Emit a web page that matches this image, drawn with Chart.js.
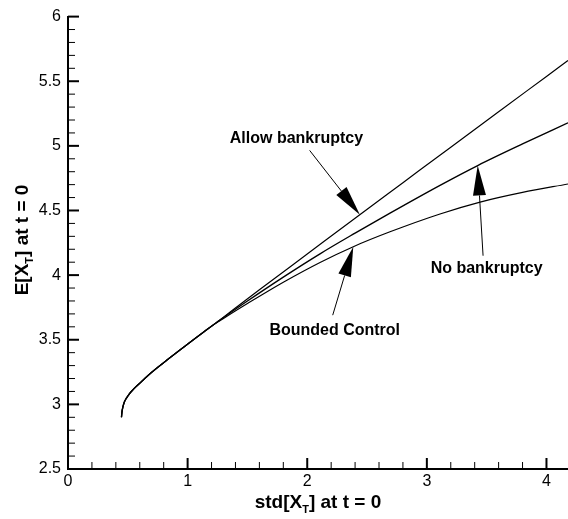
<!DOCTYPE html>
<html>
<head>
<meta charset="utf-8">
<script src="https://cdn.jsdelivr.net/npm/chart.js@4.4.1/dist/chart.umd.min.js"></script>
<style>
  html, body { margin: 0; padding: 0; background: #fff; }
  #wrap { width: 568px; height: 519px; }
</style>
</head>
<body>
<div id="wrap"><canvas id="chart" width="568" height="519"></canvas></div>
<script>
// shared start of the frontier (all three curves lie on top of each other here)
const sharedX = [0.447, 0.451, 0.459, 0.472, 0.49, 0.512, 0.54, 0.57, 0.60, 0.644, 0.70, 0.755, 0.83, 0.895, 0.98, 1.062, 1.14, 1.215];
const sharedY = [2.90, 2.94, 2.98, 3.02, 3.05, 3.08, 3.11, 3.138, 3.164, 3.202, 3.248, 3.29, 3.345, 3.392, 3.452, 3.51, 3.564, 3.615];

// where the curves split
const allowX = [1.3, 1.6, 2.0, 2.4, 2.8, 3.2, 3.6, 4.0, 4.18];
const allowY = [3.675, 3.886, 4.163, 4.44, 4.715, 4.99, 5.264, 5.537, 5.66];

const noBankX = [1.3, 1.5, 1.8, 2.107, 2.4, 2.692, 3.11, 3.425, 3.8, 4.18];
const noBankY = [3.672, 3.80, 3.985, 4.165, 4.325, 4.48, 4.695, 4.848, 5.015, 5.178];

const boundedX = [1.3, 1.5, 1.8, 2.107, 2.385, 2.692, 3.11, 3.445, 3.8, 4.18];
const boundedY = [3.665, 3.78, 3.945, 4.098, 4.22, 4.335, 4.473, 4.565, 4.64, 4.705];

const xTickValues = [0, 1, 2, 3, 4];
const yTickValues = [2.5, 3, 3.5, 4, 4.5, 5, 5.5, 6];

// callouts, in data units
const calloutText = ['Allow bankruptcy', 'No bankruptcy', 'Bounded Control'];
const calloutAt = [[1.91, 5.06], [3.5, 4.05], [2.23, 3.57]];
const arrowFrom = [[2.02, 4.965], [3.47, 4.15], [2.213, 3.69]];
const arrowTo = [[2.44, 4.467], [3.425, 4.848], [2.385, 4.22]];

function pts(xs, ys) {
  const p = [];
  for (let i = 0; i < xs.length; i++) p.push({ x: xs[i], y: ys[i] });
  return p;
}

const FONT = '"Liberation Sans", Arial, Helvetica, sans-serif';

function drawSubText(ctx, parts, size) {
  // parts: [text, isSub]
  let total = 0;
  const widths = parts.map(([t, sub]) => {
    ctx.font = 'bold ' + (sub ? Math.round(size * 0.6) : size) + 'px ' + FONT;
    const w = ctx.measureText(t).width;
    total += w;
    return w;
  });
  let x = -total / 2;
  parts.forEach(([t, sub], i) => {
    ctx.font = 'bold ' + (sub ? Math.round(size * 0.6) : size) + 'px ' + FONT;
    ctx.fillText(t, x, sub ? 5 : 0);
    x += widths[i];
  });
}

const decorations = {
  id: 'decorations',
  afterDraw(chart) {
    const ctx = chart.ctx;
    const xs = chart.scales.x, ys = chart.scales.y;
    const area = chart.chartArea;
    ctx.save();
    ctx.strokeStyle = '#000';
    ctx.fillStyle = '#000';

    // inward ticks, major + minor
    for (let i = 0; i * 0.2 <= xs.max + 1e-9; i++) {
      const px = xs.getPixelForValue(i * 0.2);
      const major = i % 5 === 0;
      ctx.lineWidth = major ? 2 : 1;
      ctx.beginPath();
      ctx.moveTo(px, area.bottom);
      ctx.lineTo(px, area.bottom - (major ? 11 : 7));
      ctx.stroke();
    }
    for (let i = 0; 2.5 + i * 0.1 <= ys.max + 1e-9; i++) {
      const py = ys.getPixelForValue(2.5 + i * 0.1);
      const major = i % 5 === 0;
      ctx.lineWidth = major ? 2 : 1;
      ctx.beginPath();
      ctx.moveTo(area.left, py);
      ctx.lineTo(area.left + (major ? 11 : 7), py);
      ctx.stroke();
    }

    // axis titles
    ctx.textAlign = 'left';
    ctx.textBaseline = 'alphabetic';
    ctx.save();
    ctx.translate(318, 508);
    drawSubText(ctx, [['std[X', false], ['T', true], ['] at t = 0', false]], 19);
    ctx.restore();
    ctx.save();
    ctx.translate(27.5, 240);
    ctx.rotate(-Math.PI / 2);
    drawSubText(ctx, [['E[X', false], ['T', true], ['] at t = 0', false]], 19);
    ctx.restore();

    // callout labels
    ctx.font = 'bold 16px ' + FONT;
    ctx.textAlign = 'center';
    ctx.textBaseline = 'middle';
    calloutText.forEach((t, i) => {
      ctx.fillText(t, xs.getPixelForValue(calloutAt[i][0]), ys.getPixelForValue(calloutAt[i][1]));
    });

    // arrows
    arrowFrom.forEach((f, i) => {
      const x0 = xs.getPixelForValue(f[0]), y0 = ys.getPixelForValue(f[1]);
      const x1 = xs.getPixelForValue(arrowTo[i][0]), y1 = ys.getPixelForValue(arrowTo[i][1]);
      const len = Math.hypot(x1 - x0, y1 - y0);
      const ux = (x1 - x0) / len, uy = (y1 - y0) / len;
      const headLen = 30, half = 6.5;
      const bx = x1 - ux * headLen, by = y1 - uy * headLen;
      ctx.lineWidth = 1;
      ctx.beginPath();
      ctx.moveTo(x0, y0);
      ctx.lineTo(bx, by);
      ctx.stroke();
      ctx.beginPath();
      ctx.moveTo(x1, y1);
      ctx.lineTo(bx - uy * half, by + ux * half);
      ctx.lineTo(bx + uy * half, by - ux * half);
      ctx.closePath();
      ctx.fill();
    });
    ctx.restore();
  }
};

const lineStyle = {
  borderColor: '#000',
  borderWidth: 1.2,
  pointRadius: 0,
  fill: false,
  cubicInterpolationMode: 'monotone'
};

new Chart(document.getElementById('chart'), {
  type: 'line',
  data: {
    datasets: [
      Object.assign({ label: 'Allow bankruptcy', data: pts(sharedX.concat(allowX), sharedY.concat(allowY)) }, lineStyle),
      Object.assign({ label: 'No bankruptcy', data: pts(sharedX.concat(noBankX), sharedY.concat(noBankY)) }, lineStyle, { borderWidth: 1.4 }),
      Object.assign({ label: 'Bounded Control', data: pts(sharedX.concat(boundedX), sharedY.concat(boundedY)) }, lineStyle)
    ]
  },
  options: {
    responsive: false,
    animation: false,
    devicePixelRatio: 1,
    layout: { padding: { top: 11, right: 0, bottom: 0, left: 0 } },
    plugins: { legend: { display: false }, tooltip: { enabled: false } },
    scales: {
      x: {
        type: 'linear',
        min: 0,
        max: 4.18,
        grid: { display: false, drawTicks: false },
        border: { display: true, color: '#000', width: 2 },
        ticks: { color: '#000', font: { family: FONT, size: 16 }, padding: 3, maxRotation: 0, callback: v => String(v) },
        afterBuildTicks: s => { s.ticks = xTickValues.map(v => ({ value: v })); },
        afterFit: s => { s.height = 50; }
      },
      y: {
        type: 'linear',
        min: 2.5,
        max: 6,
        grid: { display: false, drawTicks: false },
        border: { display: true, color: '#000', width: 2 },
        ticks: { color: '#000', font: { family: FONT, size: 16 }, padding: 7, callback: v => String(v) },
        afterBuildTicks: s => { s.ticks = yTickValues.map(v => ({ value: v })); },
        afterFit: s => { s.width = 68; }
      }
    }
  },
  plugins: [decorations]
});
</script>
</body>
</html>
